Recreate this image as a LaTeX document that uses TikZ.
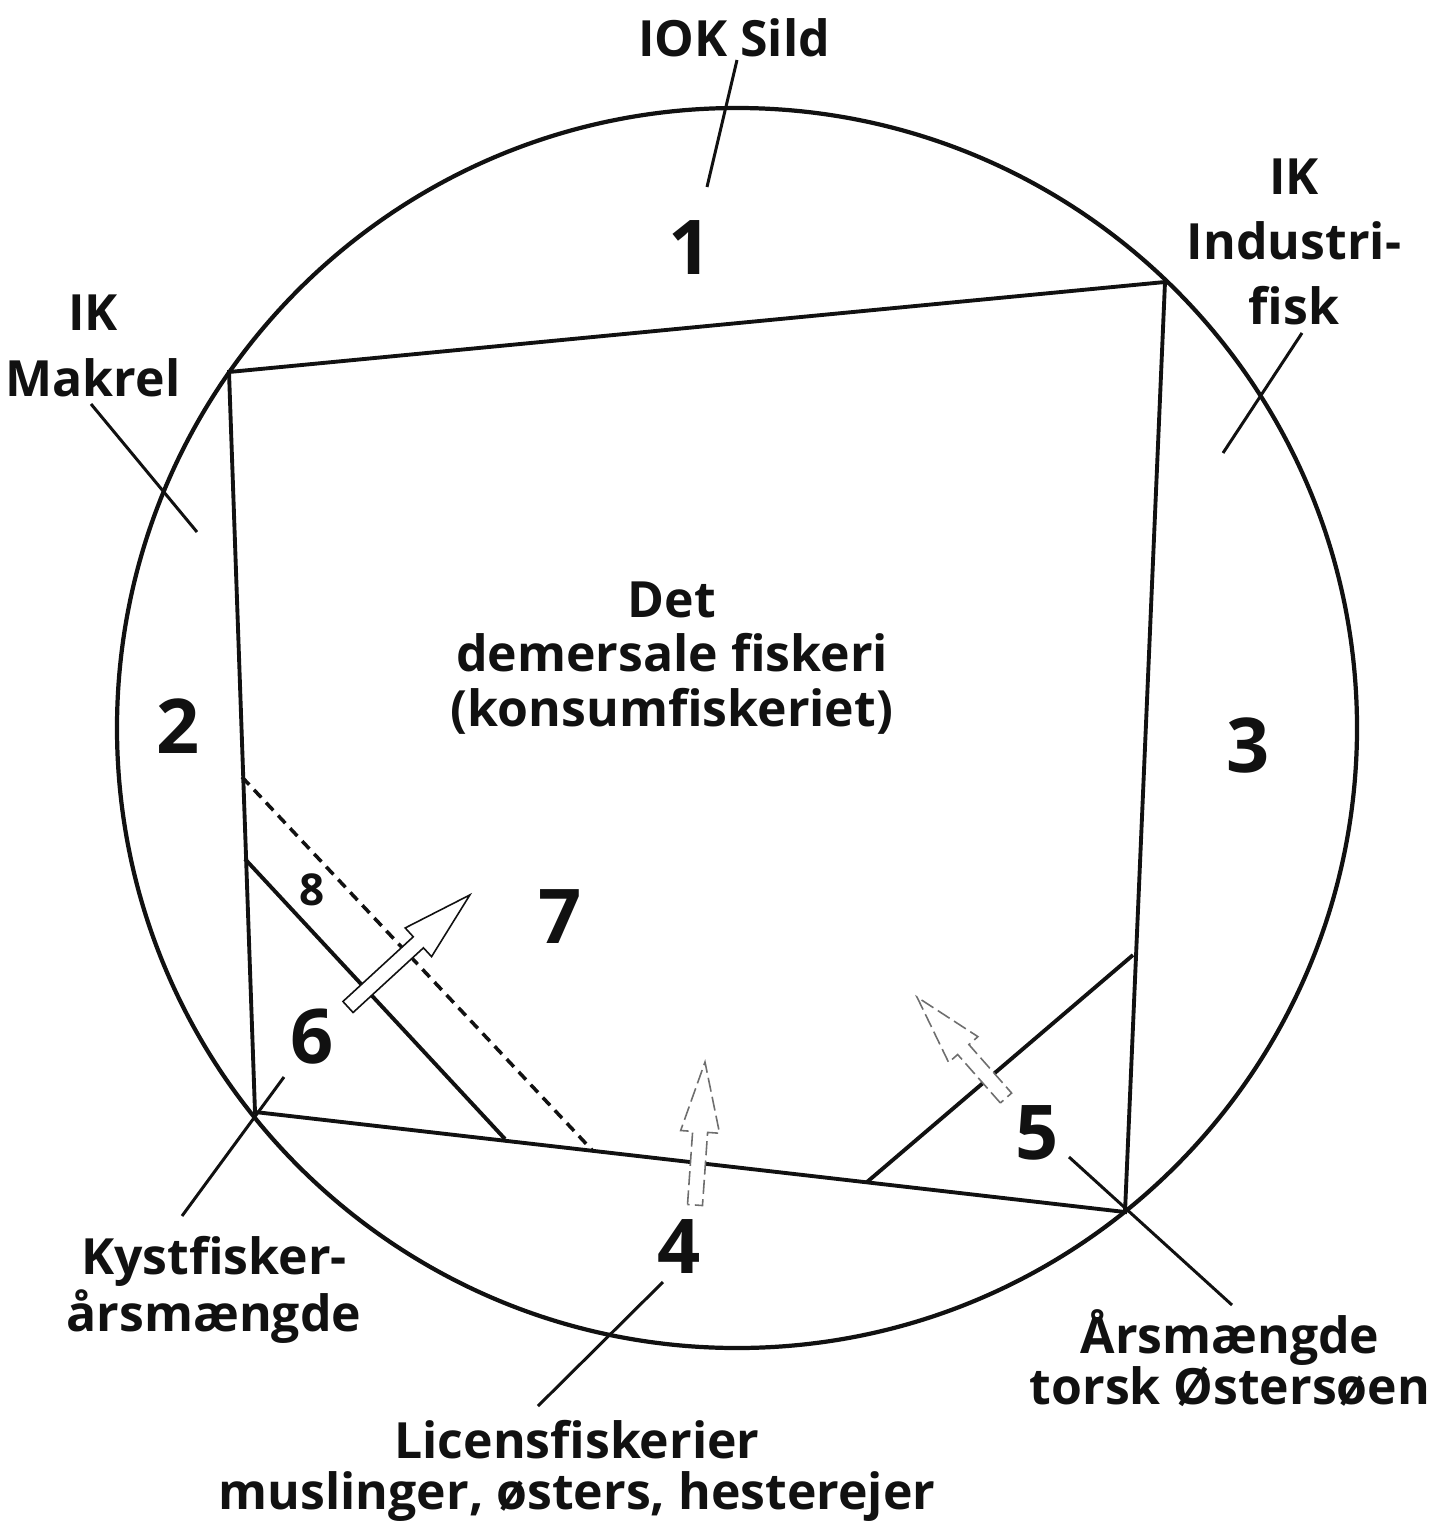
\documentclass[tikz,border=0pt]{standalone}
\usepackage{fontspec}
\setmainfont{Open Sans}
\usepackage{xcolor}
\usetikzlibrary{positioning}
\definecolor{fiskblack}{HTML}{111111}
\definecolor{fiskfaint}{HTML}{6E6E6E}
\tikzset{
  rim/.style={draw=fiskblack,line width=1.2pt},
  edge/.style={draw=fiskblack,line width=1.1pt},
  leader/.style={draw=fiskblack,line width=0.85pt},
  lbl/.style={font=\fontsize{14.2}{14.6}\selectfont\bfseries,align=center,inner sep=0pt,text=fiskblack},
  num/.style={font=\fontsize{21.5}{21.5}\selectfont\bfseries,inner sep=0pt,text=fiskblack},
  smallnum/.style={font=\fontsize{12.5}{12.5}\selectfont\bfseries,inner sep=0pt,text=fiskblack},
  arrowbody/.style={fill=white,draw=fiskblack,line width=0.45pt,line join=miter},
  faint/.style={draw=fiskfaint,dash pattern=on 4pt off 1.5pt}
}
\newcommand{\blockarrow}[4][]{%
  \begin{scope}[shift={#2},rotate=#3]
    \draw[arrowbody,#1](0,-7.5)--(#4-70,-7.5)--(#4-70,-19.5)--(#4,0)--(#4-70,19.5)--(#4-70,7.5)--(0,7.5)--cycle;
  \end{scope}}
\begin{document}
\begin{tikzpicture}[x=0.01cm,y=-0.01cm]
  \useasboundingbox(0,0)rectangle(1450,1530);
  \coordinate(ctr)at(737,728);
  \draw[rim](ctr)circle[radius=620];
  \coordinate(tl)at(229,372);\coordinate(tr)at(1165,282);
  \coordinate(br)at(1125,1212);\coordinate(bl)at(255,1112);
  \draw[edge,line join=miter](tl)--(tr)--(br)--(bl)--cycle;
  \coordinate(kyst-a)at(245,859);\coordinate(kyst-b)at(505,1139);
  \draw[edge](kyst-a)--(kyst-b);
  \coordinate(lic-a)at(242,777);\coordinate(lic-b)at(592,1150);
  \draw[edge,line width=1pt,dash pattern=on 3pt off 2pt](lic-a)--(lic-b);
  \coordinate(torsk-a)at(1133,955);\coordinate(torsk-b)at(867,1182);
  \draw[edge](torsk-a)--(torsk-b);
  \blockarrow{(348,1007)}{42.6}{165.6}
  \blockarrow[faint]{(695,1205)}{86}{143.3}
  \blockarrow[faint]{(1006,1098)}{131.4}{134.6}
  \node[lbl](sild)at(734,38){IOK Sild};
  \node[lbl](industri)at(1294,242){IK\\[4pt]Industri-\\[4pt]fisk};
  \node[lbl](makrel)at(93,346){IK\\[4pt]Makrel};
  \node[lbl](demersal)at(672,658){Det\\[1pt]demersale fiskeri\\[1pt](konsumfiskeriet)};
  \node[lbl](kystfisk)at(214,1290){Kystfisker-\\årsmængde};
  \node[lbl](licens)at(577,1471){Licensfiskerier\\muslinger, østers, hesterejer};
  \node[lbl](torsk)at(1230,1358){Årsmængde\\torsk Østersøen};
  \node[num](n1)at(690,248){1};
  \node[num](n2)at(178,726){2};
  \node[num](n3)at(1248,745){3};
  \node[num](n4)at(679,1246){4};
  \node[num](n5)at(1037,1133){5};
  \node[num](n6)at(312,1037){6};
  \node[num](n7)at(560,917){7};
  \node[smallnum](n8)at(312,890){8};
  \coordinate(sild-a)at(737,60);\coordinate(sild-b)at(707,187);
  \draw[leader](sild-a)--(sild-b);
  \coordinate(ind-a)at(1302,333);\coordinate(ind-b)at(1223,453);
  \draw[leader](ind-a)--(ind-b);
  \coordinate(mak-a)at(91,404);\coordinate(mak-b)at(197,532);
  \draw[leader](mak-a)--(mak-b);
  \coordinate(kys-a)at(284,1077);\coordinate(kys-b)at(182,1216);
  \draw[leader](kys-a)--(kys-b);
  \coordinate(lis-a)at(663,1282);\coordinate(lis-b)at(538,1406);
  \draw[leader](lis-a)--(lis-b);
  \coordinate(tor-a)at(1069,1157);\coordinate(tor-b)at(1232,1305);
  \draw[leader](tor-a)--(tor-b);
\end{tikzpicture}
\end{document}
